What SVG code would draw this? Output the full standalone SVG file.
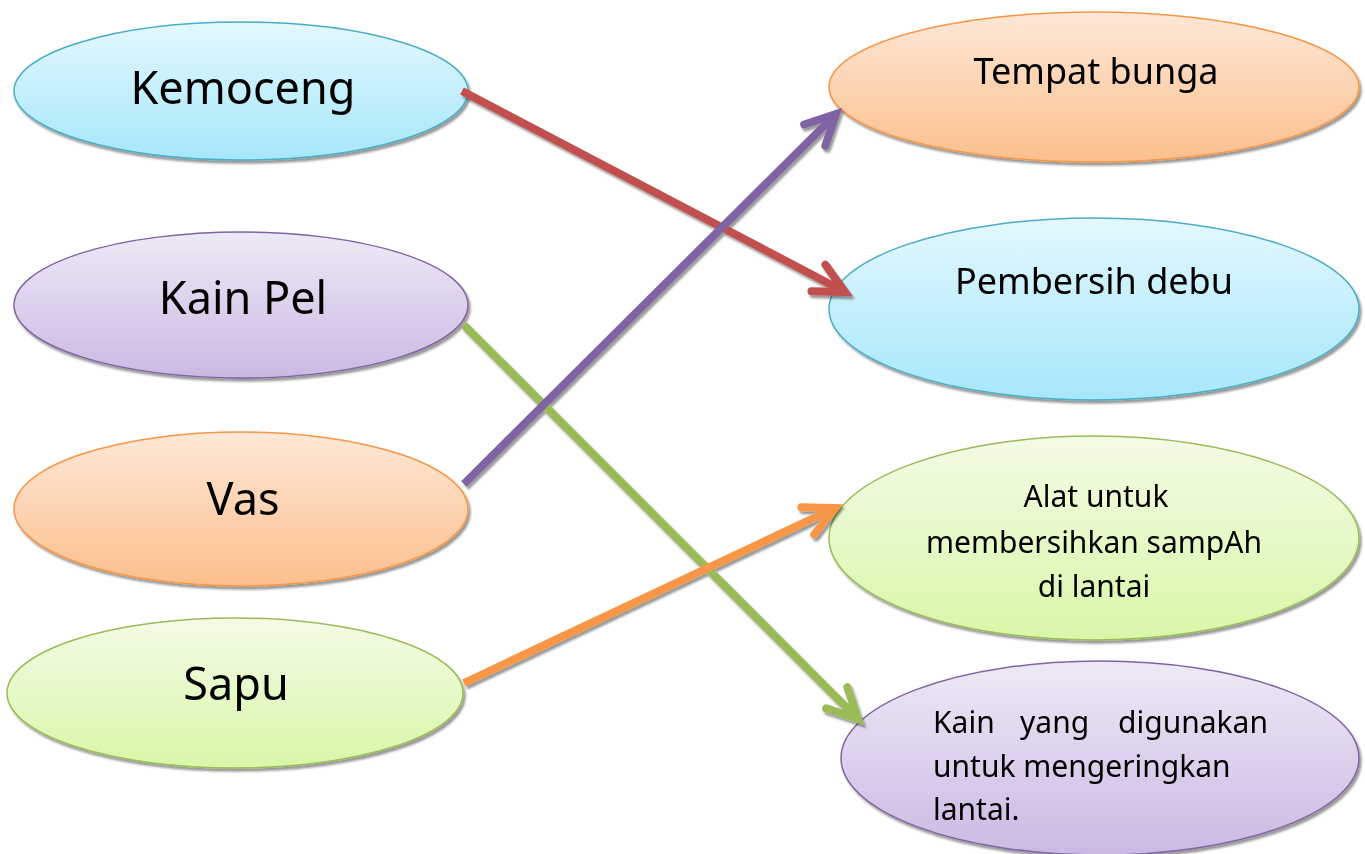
<svg xmlns="http://www.w3.org/2000/svg" width="1365" height="854" viewBox="0 0 1365 854">
<defs>
<style>
.lbl{font-family:"Comic Sans MS","Noto Sans",sans-serif;fill:#000;}
.big{font-size:45px;text-anchor:middle;}
.sm{font-size:36px;text-anchor:middle;}
.xs{font-size:30px;}
.conn{fill:none;stroke-width:8;}
.head{fill:none;stroke-width:8;stroke-linejoin:miter;stroke-linecap:round;}
</style>
<linearGradient id="gBlue" x1="0" y1="0" x2="0" y2="1"><stop offset="0" stop-color="#e3f8fe"/><stop offset="1" stop-color="#a6e7fa"/></linearGradient>
<linearGradient id="gPurple" x1="0" y1="0" x2="0" y2="1"><stop offset="0" stop-color="#eee9f6"/><stop offset="1" stop-color="#cbb9e3"/></linearGradient>
<linearGradient id="gOrange" x1="0" y1="0" x2="0" y2="1"><stop offset="0" stop-color="#fee8d7"/><stop offset="1" stop-color="#fbbf8c"/></linearGradient>
<linearGradient id="gGreen" x1="0" y1="0" x2="0" y2="1"><stop offset="0" stop-color="#f3fbe6"/><stop offset="1" stop-color="#d8f7a8"/></linearGradient>
<filter id="sh" x="-10%" y="-10%" width="120%" height="130%"><feDropShadow dx="2" dy="3" stdDeviation="1.2" flood-color="#000" flood-opacity="0.4"/></filter>
<marker id="mRed" markerUnits="userSpaceOnUse" viewBox="-40 -22 50 44" refX="0" refY="0" markerWidth="50" markerHeight="44" orient="auto"><path class="head" d="M-30,-15 L0,0 L-30,15" stroke="#c0504d"/></marker>
<marker id="mPurple" markerUnits="userSpaceOnUse" viewBox="-40 -22 50 44" refX="0" refY="0" markerWidth="50" markerHeight="44" orient="auto"><path class="head" d="M-30,-15 L0,0 L-30,15" stroke="#8064a2"/></marker>
<marker id="mGreen" markerUnits="userSpaceOnUse" viewBox="-40 -22 50 44" refX="0" refY="0" markerWidth="50" markerHeight="44" orient="auto"><path class="head" d="M-30,-15 L0,0 L-30,15" stroke="#9bbb59"/></marker>
<marker id="mOrange" markerUnits="userSpaceOnUse" viewBox="-40 -22 50 44" refX="0" refY="0" markerWidth="50" markerHeight="44" orient="auto"><path class="head" d="M-30,-15 L0,0 L-30,15" stroke="#f79646"/></marker>
</defs>
<rect width="1365" height="854" fill="#fff"/>

<g id="kemoceng" filter="url(#sh)">
<ellipse cx="241" cy="91" rx="227" ry="69" fill="url(#gBlue)" stroke="#4bacc6" stroke-width="1.5"/>
<text class="lbl big" x="243" y="104">Kemoceng</text>
</g>
<g id="kain-pel" filter="url(#sh)">
<ellipse cx="241" cy="305" rx="227" ry="73" fill="url(#gPurple)" stroke="#8064a2" stroke-width="1.5"/>
<text class="lbl big" x="243" y="314">Kain Pel</text>
</g>
<g id="vas" filter="url(#sh)">
<ellipse cx="241" cy="509" rx="227" ry="77" fill="url(#gOrange)" stroke="#f79646" stroke-width="1.5"/>
<text class="lbl big" x="243" y="515">Vas</text>
</g>
<g id="sapu" filter="url(#sh)">
<ellipse cx="235" cy="693" rx="228" ry="75" fill="url(#gGreen)" stroke="#9bbb59" stroke-width="1.5"/>
<text class="lbl big" x="236" y="700">Sapu</text>
</g>

<g id="tempat-bunga" filter="url(#sh)">
<ellipse cx="1094" cy="87" rx="265" ry="75" fill="url(#gOrange)" stroke="#f79646" stroke-width="1.5"/>
<text class="lbl sm" x="1096" y="84">Tempat bunga</text>
</g>
<g id="pembersih-debu" filter="url(#sh)">
<ellipse cx="1094" cy="309" rx="265" ry="91" fill="url(#gBlue)" stroke="#4bacc6" stroke-width="1.5"/>
<text class="lbl sm" x="1094" y="294">Pembersih debu</text>
</g>
<g id="alat-untuk" filter="url(#sh)">
<ellipse cx="1094" cy="538" rx="265" ry="102" fill="url(#gGreen)" stroke="#9bbb59" stroke-width="1.5"/>
<text class="lbl xs" text-anchor="middle" x="1096" y="507">Alat untuk</text>
<text class="lbl xs" text-anchor="middle" x="1094" y="553">membersihkan sampAh</text>
<text class="lbl xs" text-anchor="middle" x="1094" y="597">di lantai</text>
</g>
<g id="kain-yang" filter="url(#sh)">
<ellipse cx="1100" cy="758" rx="259" ry="97" fill="url(#gPurple)" stroke="#8064a2" stroke-width="1.5"/>
<text class="lbl xs" y="733"><tspan x="933">Kain</tspan><tspan x="1020">yang</tspan><tspan x="1268" text-anchor="end">digunakan</tspan></text>
<text class="lbl xs" x="933" y="777">untuk mengeringkan</text>
<text class="lbl xs" x="933" y="820">lantai.</text>
</g>

<g id="connectors" filter="url(#sh)">
<line class="conn" x1="462" y1="91" x2="845" y2="292" stroke="#c0504d" marker-end="url(#mRed)"/>
<line class="conn" x1="464" y1="325" x2="858" y2="719" stroke="#9bbb59" marker-end="url(#mGreen)"/>
<line class="conn" x1="464" y1="484" x2="836" y2="114" stroke="#8064a2" marker-end="url(#mPurple)"/>
<line class="conn" x1="464" y1="683" x2="835" y2="508" stroke="#f79646" marker-end="url(#mOrange)"/>
</g>
</svg>
